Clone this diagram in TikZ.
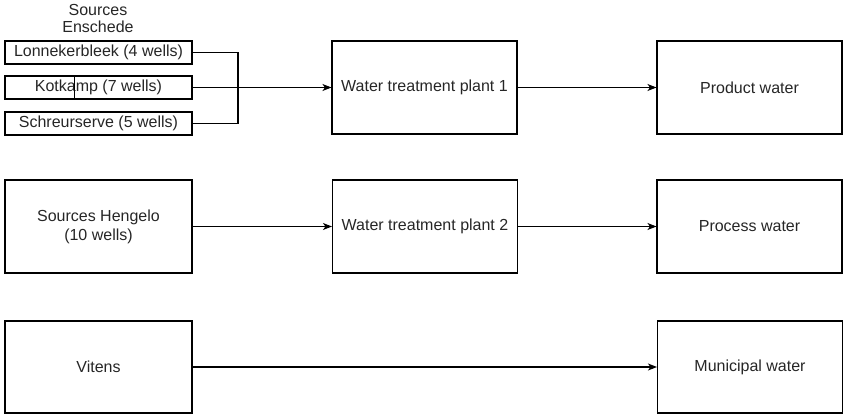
\documentclass[tikz,border=0pt]{standalone}
\usepackage{fontspec}
\setmainfont{Liberation Sans}
\usetikzlibrary{arrows.meta}
\tikzset{
  box/.style={draw=black, line width=1.1pt, rectangle, inner sep=0pt, align=center,
              font=\fontsize{16}{19}\selectfont, text=black!85},
  bigbox/.style={box, minimum width=185pt, minimum height=93pt},
  srcbox/.style={box, minimum width=187pt, minimum height=23pt},
  wire/.style={line width=1.1pt, draw=black},
  flow/.style={wire, -{Stealth[length=9pt, width=7pt, inset=2.5pt]}},
}
\begin{document}
\begin{tikzpicture}[x=1pt, y=-1pt]
  \path[use as bounding box] (0,0) rectangle (845,415);

  % Enschede well fields
  \node[align=center, font=\fontsize{16}{17}\selectfont, text=black!85] (enschede) at (98,18) {Sources\\Enschede};
  \node[srcbox] (lon) at (98.5,52.5)  {Lonnekerbleek (4 wells)};
  \node[srcbox] (kot) at (98.5,87.5)  {Kotkamp (7 wells)};
  \node[srcbox] (sch) at (98.5,123.5) {Schreurserve (5 wells)};
  \draw[line width=0.5pt] ([xshift=70pt]kot.north west) -- ([xshift=70pt]kot.south west);

  % other sources
  \node[bigbox, minimum width=187pt] (hen) at (98.5,226.5) {Sources Hengelo\\(10 wells)};
  \node[bigbox, minimum width=187pt, minimum height=92pt] (vit) at (98.5,367) {Vitens};

  % treatment plants
  \node[bigbox] (wtp1) at (424.5,87.5)  {Water treatment plant 1};
  \node[bigbox] (wtp2) at (425,226.5)   {Water treatment plant 2};

  % products
  \node[bigbox] (prod) at (749.5,87.5)  {Product water};
  \node[bigbox] (proc) at (749.5,226.5) {Process water};
  \node[bigbox, minimum height=92pt] (mun) at (750,367) {Municipal water};

  % connectors
  \coordinate (bx) at (238,87.5);
  \draw[wire] (lon.east) -| (bx) |- (sch.east);
  \draw[flow] (kot.east) -- (wtp1.west);
  \draw[flow] (wtp1.east) -- (prod.west);
  \draw[flow] (hen.east) -- (wtp2.west);
  \draw[flow] (wtp2.east) -- (proc.west);
  \draw[flow] (vit.east) -- (mun.west);
\end{tikzpicture}
\end{document}
